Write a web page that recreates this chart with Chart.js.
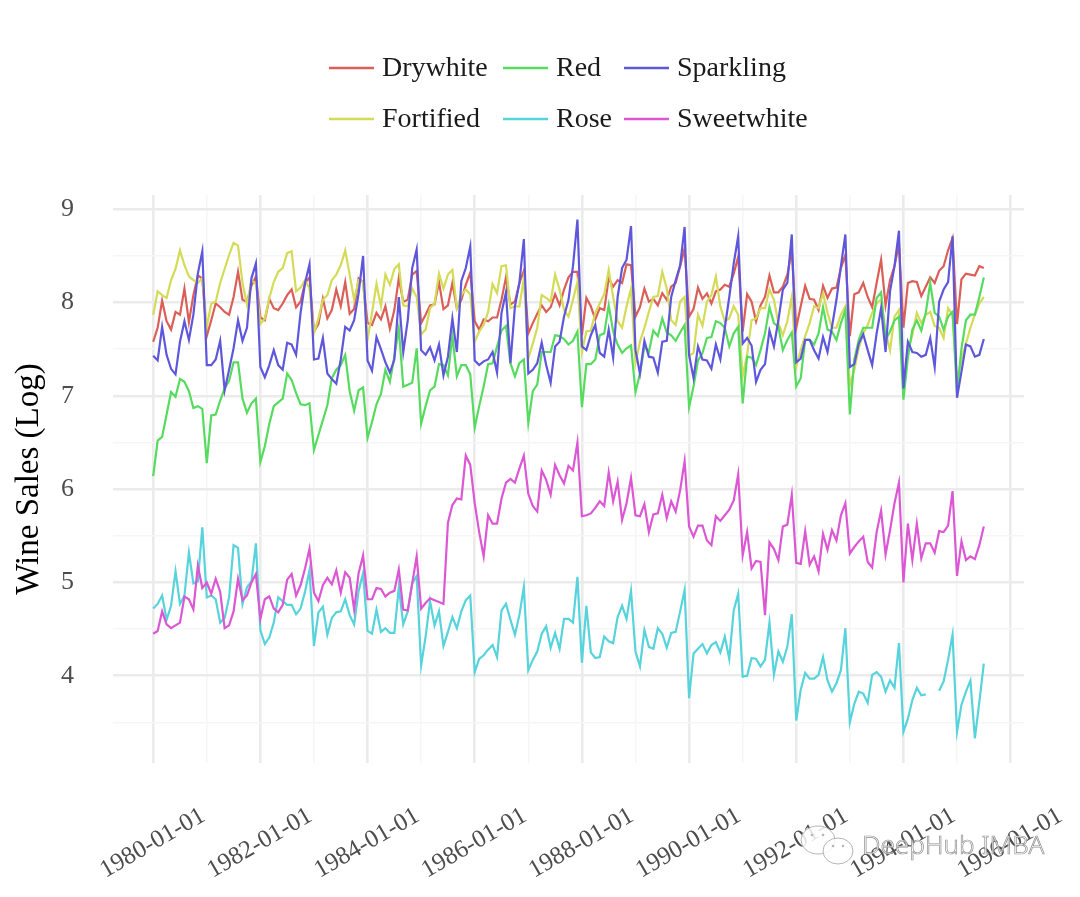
<!DOCTYPE html>
<html>
<head>
<meta charset="utf-8">
<style>html,body{margin:0;padding:0;background:#fff}canvas{display:block}</style>
<script src="https://cdn.jsdelivr.net/npm/chart.js@4"></script>
</head>
<body>
<canvas id="c" width="1080" height="897"></canvas>
<script>
const xTickLabels = ['1980-01-01','1982-01-01','1984-01-01','1986-01-01','1988-01-01','1990-01-01','1992-01-01','1994-01-01','1996-01-01'];
const yTickValues = [4,5,6,7,8,9];
const seriesNames = ['Drywhite','Fortified','Red','Rose','Sparkling','Sweetwhite'];
const seriesColors = ['#db5f57','#d3db57','#57db5f','#57d3db','#5f57db','#db57d3'];

const drywhite = [
7.58,7.73,8.02,7.80,7.71,7.90,7.87,8.15,7.79,8.08,8.29,8.26,
7.64,7.81,7.99,7.95,7.90,7.87,8.06,8.33,8.03,8.01,8.18,8.28,
7.84,7.81,8.04,7.94,7.92,7.99,8.08,8.14,7.95,8.01,8.21,8.27,
7.69,7.77,8.04,7.83,7.92,8.14,7.96,8.22,7.88,7.93,8.26,8.22,
7.78,7.76,7.89,7.82,7.96,7.72,7.92,8.26,8.01,8.03,8.30,8.34,
7.78,7.87,7.97,7.98,8.22,7.93,7.97,8.21,7.94,8.03,8.19,8.32,
7.80,7.71,7.82,7.80,7.84,7.84,8.03,8.27,7.98,8.01,8.21,8.34,
7.67,7.78,7.88,7.97,7.90,7.95,8.09,7.97,8.14,8.27,8.33,8.33,
7.65,8.05,7.96,7.82,7.94,7.92,8.26,8.17,8.24,8.21,8.41,8.40,
7.85,7.95,8.15,8.01,8.04,7.97,8.10,8.03,8.17,8.21,8.39,8.58,
7.85,7.93,8.16,8.04,8.10,7.99,8.12,8.14,8.19,8.17,8.31,8.49,
7.69,8.09,8.01,7.80,7.97,8.06,8.29,8.11,8.11,8.17,8.30,8.56,
7.73,7.96,8.18,8.04,8.03,7.92,8.18,8.05,8.15,8.16,8.37,8.51,
7.64,8.09,8.11,8.21,8.06,7.95,8.21,8.46,7.97,8.24,8.39,8.63,
7.73,8.21,8.23,8.22,8.07,8.17,8.27,8.21,8.34,8.39,8.56,8.69,
7.77,8.25,8.31,8.30,8.29,8.39,8.37];

const fortified = [
7.87,8.12,8.08,8.05,8.24,8.36,8.56,8.40,8.28,8.24,8.21,8.26,
7.74,7.99,8.01,8.21,8.36,8.51,8.64,8.61,8.21,7.98,8.24,8.20,
7.77,7.83,8.05,8.22,8.33,8.37,8.53,8.55,8.12,8.16,8.24,8.15,
7.67,7.83,8.03,8.08,8.24,8.30,8.40,8.56,8.30,8.03,8.24,8.22,
7.60,7.89,8.20,7.96,8.30,8.19,8.36,8.41,7.97,7.96,8.15,8.06,
7.66,7.71,7.94,7.99,8.31,8.15,8.30,8.35,7.94,8.08,8.14,8.09,
7.58,7.69,7.76,7.90,8.20,8.10,8.39,8.40,7.94,7.96,7.96,8.26,
7.40,7.56,7.73,8.08,8.05,8.01,8.30,8.14,7.92,7.85,8.03,8.22,
7.47,7.69,7.70,7.89,7.99,8.09,8.35,8.06,7.80,7.73,7.96,8.15,
7.35,7.58,7.73,7.90,8.06,8.07,8.33,8.15,7.81,7.76,8.01,8.06,
7.43,7.46,7.87,7.75,8.01,8.08,8.28,7.96,7.80,7.83,7.96,7.87,
7.21,7.44,7.81,7.83,7.94,7.94,8.14,8.03,7.78,7.65,7.80,8.06,
7.31,7.49,7.64,7.78,7.96,7.94,8.10,7.89,7.73,7.73,7.87,7.96,
7.11,7.28,7.51,7.67,7.76,7.89,7.99,8.03,7.69,7.49,7.85,7.92,
7.12,7.49,7.65,7.89,7.78,7.87,7.90,7.75,7.73,7.62,7.94,7.87,
7.17,7.39,7.56,7.73,7.87,7.99,8.06];

const red = [
6.14,6.52,6.56,6.80,7.04,6.99,7.18,7.15,7.05,6.87,6.89,6.86,
6.28,6.79,6.80,6.95,7.08,7.16,7.36,7.36,6.97,6.82,6.92,6.97,
6.29,6.46,6.70,6.89,6.93,6.97,7.24,7.17,7.03,6.91,6.90,6.92,
6.42,6.58,6.74,6.90,7.19,7.28,7.33,7.44,7.05,6.84,7.06,7.09,
6.55,6.72,6.91,7.02,7.28,7.15,7.42,7.72,7.10,7.12,7.14,7.51,
6.70,6.89,7.06,7.10,7.34,7.33,7.22,7.64,7.21,7.33,7.33,7.23,
6.66,6.89,7.10,7.34,7.35,7.53,7.70,7.75,7.35,7.21,7.35,7.39,
6.71,7.05,7.12,7.47,7.47,7.47,7.65,7.64,7.61,7.55,7.59,7.69,
6.88,7.34,7.34,7.39,7.65,7.67,7.97,7.69,7.55,7.46,7.51,7.54,
7.04,7.24,7.53,7.47,7.70,7.64,7.83,7.68,7.65,7.59,7.68,7.76,
6.88,7.10,7.38,7.46,7.62,7.63,7.80,7.78,7.73,7.53,7.67,7.74,
6.92,7.42,7.41,7.33,7.49,7.67,7.95,7.78,7.74,7.49,7.60,7.68,
7.10,7.19,7.60,7.60,7.55,7.67,7.95,7.71,7.69,7.60,7.78,7.92,
6.80,7.39,7.60,7.73,7.73,7.73,8.05,8.11,7.60,7.69,7.81,7.85,
6.96,7.41,7.71,7.81,7.70,7.89,8.21,7.89,7.85,7.71,7.85,7.90,
7.03,7.51,7.81,7.87,7.87,8.06,8.27];

const rose = [
4.72,4.77,4.86,4.60,4.75,5.12,4.77,4.86,5.32,4.99,5.01,5.59,
4.84,4.86,4.82,4.57,4.62,4.84,5.40,5.37,4.77,4.95,5.01,5.42,
4.49,4.34,4.41,4.57,4.84,4.80,4.76,4.76,4.66,4.72,4.90,5.13,
4.32,4.68,4.74,4.44,4.62,4.68,4.69,4.82,4.65,4.55,4.91,5.10,
4.48,4.45,4.71,4.47,4.51,4.46,4.46,4.95,4.55,4.69,4.99,5.07,
4.11,4.42,4.80,4.54,4.69,4.32,4.47,4.63,4.51,4.69,4.81,4.86,
4.04,4.18,4.22,4.28,4.33,4.20,4.70,4.77,4.60,4.44,4.65,4.95,
4.06,4.17,4.26,4.45,4.53,4.30,4.46,4.29,4.61,4.61,4.57,5.06,
4.14,4.75,4.25,4.19,4.20,4.42,4.37,4.35,4.63,4.75,4.61,4.91,
4.26,4.10,4.49,4.31,4.29,4.51,4.45,4.30,4.46,4.47,4.69,4.92,
3.76,4.24,4.29,4.34,4.24,4.33,4.36,4.25,4.42,4.18,4.70,4.88,
3.99,4.00,4.19,4.18,4.10,4.17,4.57,4.01,4.26,4.15,4.31,4.66,
3.52,3.85,4.03,3.97,3.97,4.01,4.20,3.95,3.83,3.92,4.06,4.51,
3.50,3.70,3.83,3.81,3.71,4.01,4.04,3.99,3.83,3.95,3.87,4.35,
3.40,3.54,3.74,3.87,3.79,3.80,null,null,3.84,3.94,4.17,4.44,
3.40,3.69,3.83,3.95,3.33,3.72,4.13];

const sparkling = [
7.43,7.38,7.74,7.44,7.29,7.23,7.58,7.80,7.60,7.87,8.31,8.55,
7.33,7.33,7.39,7.59,7.06,7.28,7.51,7.81,7.59,7.73,8.26,8.42,
7.31,7.20,7.33,7.49,7.33,7.28,7.57,7.55,7.44,7.89,8.21,8.41,
7.39,7.40,7.62,7.24,7.18,7.13,7.39,7.74,7.70,7.81,8.10,8.50,
7.38,7.27,7.63,7.50,7.36,7.25,7.39,8.06,7.47,7.81,8.37,8.57,
7.49,7.44,7.52,7.38,7.55,7.22,7.42,7.83,7.47,8.23,8.37,8.60,
7.38,7.33,7.37,7.39,7.47,7.25,7.89,8.11,7.35,7.96,8.21,8.68,
7.24,7.28,7.35,7.57,7.33,7.14,7.53,7.58,7.85,8.03,8.39,8.89,
7.53,7.49,7.65,7.76,7.46,7.42,7.71,7.41,8.06,8.37,8.46,8.82,
7.49,7.24,7.59,7.42,7.41,7.25,7.58,7.59,8.06,8.24,8.40,8.81,
7.44,7.19,7.53,7.39,7.38,7.29,7.55,7.39,7.73,8.06,8.42,8.71,
7.56,7.62,7.54,7.15,7.28,7.34,7.70,7.53,7.81,8.14,8.21,8.73,
7.36,7.40,7.60,7.60,7.49,7.40,7.63,7.47,7.74,8.03,8.39,8.73,
7.31,7.34,7.56,7.66,7.49,7.33,7.67,7.94,7.47,8.12,8.39,8.77,
7.08,7.58,7.47,7.46,7.42,7.44,7.62,7.31,8.01,8.14,8.22,8.71,
6.98,7.26,7.55,7.53,7.42,7.44,7.61];

const sweetwhite = [
4.45,4.48,4.69,4.55,4.51,4.54,4.57,4.85,4.82,4.71,5.18,4.94,
5.00,4.88,5.04,4.90,4.51,4.54,4.69,5.04,4.81,4.86,5.00,5.09,
4.61,4.82,4.85,4.72,4.68,4.76,5.03,5.09,4.86,4.97,5.15,5.36,
4.89,4.80,4.97,5.05,4.98,5.13,4.89,5.11,5.05,4.71,5.10,5.29,
4.82,4.82,4.94,4.93,4.85,4.89,4.91,5.14,4.71,4.70,4.99,5.28,
4.72,4.78,4.83,4.81,4.79,4.77,5.64,5.83,5.90,5.89,6.36,6.26,
5.85,5.54,5.28,5.72,5.63,5.63,5.90,6.07,6.11,6.07,6.22,6.36,
5.95,5.82,5.76,6.20,6.10,5.94,6.26,6.15,6.06,6.25,6.20,6.50,
5.71,5.72,5.74,5.80,5.87,5.82,6.18,5.87,6.08,5.67,5.85,6.12,
5.72,5.71,5.84,5.54,5.73,5.74,5.94,5.69,5.87,5.76,5.99,6.30,
5.60,5.49,5.61,5.61,5.45,5.40,5.71,5.66,5.72,5.78,5.88,6.16,
5.29,5.54,5.15,5.23,5.22,4.65,5.43,5.36,5.24,5.60,5.62,5.94,
5.21,5.20,5.55,5.19,5.28,5.12,5.52,5.35,5.56,5.45,5.72,5.85,
5.31,5.38,5.44,5.49,5.22,5.16,5.54,5.77,5.30,5.56,5.85,6.07,
5.00,5.63,5.24,5.63,5.26,5.42,5.42,5.32,5.55,5.54,5.61,5.98,
5.07,5.44,5.24,5.28,5.25,5.40,5.60];

const seriesValues = [drywhite, fortified, red, rose, sparkling, sweetwhite];
const SERIF = '"Liberation Serif", serif';

const legendLayout = {
  columns: [329, 503, 624],
  rows: [68, 119],
  lineLength: 45,
  gap: 8,
  order: ['Drywhite','Red','Sparkling','Fortified','Rose','Sweetwhite']
};

const sideLegend = {
  id: 'sideLegend',
  afterDraw(chart) {
    const ctx = chart.ctx;
    ctx.save();
    ctx.font = '28px ' + SERIF;
    ctx.textAlign = 'left';
    ctx.textBaseline = 'middle';
    legendLayout.order.forEach((name, k) => {
      const ds = chart.data.datasets.find(d => d.label === name);
      const x = legendLayout.columns[k % 3];
      const y = legendLayout.rows[Math.floor(k / 3)];
      ctx.strokeStyle = ds.borderColor;
      ctx.lineWidth = 2.4;
      ctx.beginPath();
      ctx.moveTo(x, y);
      ctx.lineTo(x + legendLayout.lineLength, y);
      ctx.stroke();
      ctx.fillStyle = '#1a1a1a';
      ctx.fillText(name, x + legendLayout.lineLength + legendLayout.gap, y + 1);
    });
    ctx.restore();
  }
};

const watermark = {
  id: 'watermark',
  afterDraw(chart) {
    const ctx = chart.ctx;
    ctx.save();
    ctx.lineWidth = 1;
    ctx.strokeStyle = '#b5b5b5';
    ctx.fillStyle = 'rgba(255,255,255,0.85)';
    [[818, 840, 17, 14], [838, 851, 15, 13]].forEach(b => {
      ctx.beginPath();
      ctx.ellipse(b[0], b[1], b[2], b[3], 0, 0, Math.PI * 2);
      ctx.fill();
      ctx.stroke();
    });
    ctx.fillStyle = '#b5b5b5';
    [[833, 846], [843, 846], [812, 835], [823, 835]].forEach(e => {
      ctx.beginPath();
      ctx.arc(e[0], e[1], 1.3, 0, Math.PI * 2);
      ctx.fill();
    });
    ctx.font = '300 26px "Noto Sans", sans-serif';
    ctx.textAlign = 'left';
    ctx.textBaseline = 'middle';
    ctx.fillStyle = 'rgba(255,255,255,0.8)';
    ctx.fillText('DeepHub IMBA', 862, 847);
    ctx.lineWidth = 0.7;
    ctx.strokeStyle = '#8f8f8f';
    ctx.strokeText('DeepHub IMBA', 862, 847);
    ctx.restore();
  }
};

const MAJOR = '#ebebeb', MINOR = '#f6f6f6';
const MONTHS_PER_TICK = 12;

new Chart(document.getElementById('c').getContext('2d'), {
  type: 'line',
  data: {
    datasets: seriesNames.map((name, s) => ({
      label: name,
      data: seriesValues[s].map((v, i) => ({ x: i, y: v })),
      borderColor: seriesColors[s],
      backgroundColor: seriesColors[s],
      borderWidth: 2.2,
      pointRadius: 0,
      tension: 0,
      fill: false,
      spanGaps: false,
      order: seriesNames.length - s
    }))
  },
  options: {
    responsive: false,
    animation: false,
    devicePixelRatio: 1,
    layout: { padding: { top: 195, right: 56, left: 0, bottom: 0 } },
    plugins: { legend: { display: false }, tooltip: { enabled: false }, title: { display: false } },
    scales: {
      x: {
        type: 'linear',
        min: -9,
        max: 195,
        afterBuildTicks(scale) {
          const t = [];
          for (let v = 0; v <= scale.max; v += MONTHS_PER_TICK) t.push({ value: v });
          scale.ticks = t;
        },
        afterFit(scale) { scale.height = 134; scale.paddingLeft = 0; scale.paddingRight = 0; },
        grid: {
          drawTicks: false,
          color: c => (c.tick && c.tick.value % 24 === 0) ? MAJOR : MINOR,
          lineWidth: c => (c.tick && c.tick.value % 24 === 0) ? 2.6 : 1.6
        },
        border: { display: false },
        ticks: {
          autoSkip: false,
          minRotation: 30,
          maxRotation: 30,
          padding: 38,
          labelOffset: 50,
          color: '#4d4d4d',
          font: { family: SERIF, size: 25 },
          callback: v => (v % 24 === 0 ? xTickLabels[v / 24] : '')
        }
      },
      y: {
        type: 'linear',
        min: 3.065,
        max: 9.153,
        afterFit(scale) { scale.width = 113; scale.paddingTop = 0; scale.paddingBottom = 0; },
        title: {
          display: true,
          text: 'Wine Sales (Log)',
          color: '#000000',
          font: { family: SERIF, size: 33 },
          padding: { top: 10, bottom: 0 }
        },
        grid: {
          drawTicks: false,
          color: c => (c.tick && Number.isInteger(c.tick.value)) ? MAJOR : MINOR,
          lineWidth: c => (c.tick && Number.isInteger(c.tick.value)) ? 2.6 : 1.6
        },
        border: { display: false },
        ticks: {
          stepSize: 0.5,
          includeBounds: false,
          autoSkip: false,
          padding: 39,
          color: '#4d4d4d',
          font: { family: SERIF, size: 26 },
          callback: v => (yTickValues.includes(v) ? String(v) : '')
        }
      }
    }
  },
  plugins: [sideLegend, watermark]
});
</script>
</body>
</html>
